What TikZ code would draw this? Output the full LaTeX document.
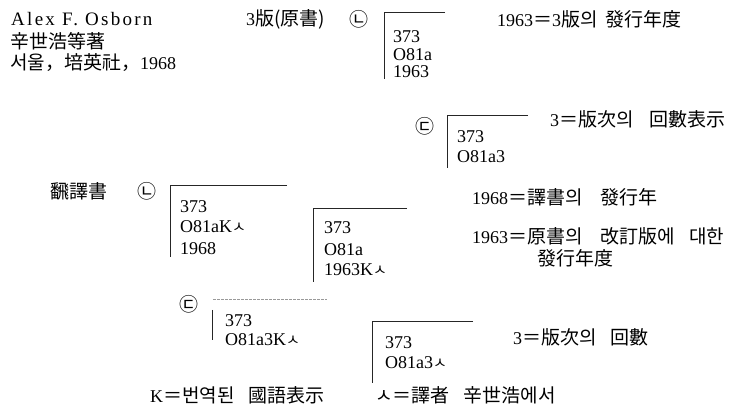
\documentclass[tikz,border=0pt]{standalone}
\usepackage{fontspec}
\setmainfont{Liberation Serif}
\newfontfamily\kr{Noto Sans CJK KR}
\newfontfamily\spaced[LetterSpace=12]{Liberation Serif}
\newcommand\hj[1]{{\kr\fontsize{19}{21}\selectfont #1}}
\newcommand\js[1]{{\kr\fontsize{15}{18}\selectfont #1}}
\newcommand\gap[1]{\hspace*{#1pt}}
\tikzset{
  txt/.style={inner sep=0pt, anchor=west, font=\fontsize{18}{21}\selectfont},
  rule/.style={line width=0.8pt, black!85},
  faint/.style={line width=0.8pt, black!40, dash pattern=on 3pt off 1pt},
}
\begin{document}
\begin{tikzpicture}[x=1pt,y=-1pt]
\useasboundingbox (0,0) rectangle (750,411);
% header block
\node[txt] (alex) at (11,19) {\spaced\fontsize{19}{21}\selectfont Alex F. Osborn};
\node[txt] (tr) at (10,41) {\hj{辛世浩等著}};
\node[txt] (pub) at (10,63) {\hj{서울，培英社，}1968};
\node[txt] (ed3) at (246,19) {3\hj{版(原書)}};
\node[txt] (c1) at (349,19) {\hj{㉡}};
% box 1
\coordinate (b1t) at (384,12); \coordinate (b1r) at (445,12); \coordinate (b1b) at (384,79);
\draw[rule] (b1r) -- (b1t) -- (b1b);
\node[txt] (b1a) at (393,37) {373};
\node[txt] (b1b') at (393,55) {O81a};
\node[txt] (b1c) at (393,72) {1963};
\node[txt] (n1) at (497,19) {1963\hj{＝}3\hj{版의\gap{8}發行年度}};
% box 2
\node[txt] (c2) at (415,126) {\hj{㉢}};
\coordinate (b2t) at (447,115); \coordinate (b2r) at (528,115); \coordinate (b2b) at (447,168);
\draw[rule] (b2r) -- (b2t) -- (b2b);
\node[txt] (b2a) at (457,137) {373};
\node[txt] (b2c) at (457,157) {O81a3};
\node[txt] (n2) at (550,119) {3\hj{＝版次의\gap{16}回數表示}};
% translation
\node[txt] (trans) at (50,191) {\hj{飜譯書}};
\node[txt] (c3) at (137,191) {\hj{㉡}};
% box 3
\coordinate (b3t) at (170,185); \coordinate (b3r) at (287,185); \coordinate (b3b) at (170,257);
\draw[rule] (b3r) -- (b3t) -- (b3b);
\node[txt] (b3a) at (180,207) {373};
\node[txt] (b3c) at (180,227) {O81aK\js{ㅅ}};
\node[txt] (b3d) at (180,249) {1968};
% box 4
\coordinate (b4t) at (313,208); \coordinate (b4r) at (407,208); \coordinate (b4b) at (313,282);
\draw[rule] (b4r) -- (b4t) -- (b4b);
\node[txt] (b4a) at (324,228) {373};
\node[txt] (b4c) at (324,250) {O81a};
\node[txt] (b4d) at (324,270) {1963K\js{ㅅ}};
\node[txt] (n3) at (472,197) {1968\hj{＝譯書의\gap{18}發行年}};
\node[txt] (n4) at (472,236) {1963\hj{＝原書의\gap{18}改訂版에\gap{14}대한}};
\node[txt] (n5) at (537,258) {\hj{發行年度}};
% box 5
\node[txt] (c4) at (179,304) {\hj{㉢}};
\coordinate (b5t) at (213,299); \coordinate (b5r) at (327,299);
\coordinate (b5v) at (212,310); \coordinate (b5b) at (212,340);
\draw[faint] (b5t) -- (b5r);
\draw[rule] (b5v) -- (b5b);
\node[txt] (b5a) at (225,321) {373};
\node[txt] (b5c) at (225,340) {O81a3K\js{ㅅ}};
% box 6
\coordinate (b6t) at (372,321); \coordinate (b6r) at (473,321); \coordinate (b6b) at (372,383);
\draw[rule] (b6r) -- (b6t) -- (b6b);
\node[txt] (b6a) at (385,343) {373};
\node[txt] (b6c) at (385,363) {O81a3\js{ㅅ}};
\node[txt] (n6) at (513,337) {3\hj{＝版次의\gap{14}回數}};
% legend
\node[txt] (l1) at (150,395) {K\hj{＝번역된\gap{14}國語表示}};
\node[txt] (l2) at (375,395) {\hj{ㅅ＝譯者\gap{14}辛世浩에서}};
\end{tikzpicture}
\end{document}
